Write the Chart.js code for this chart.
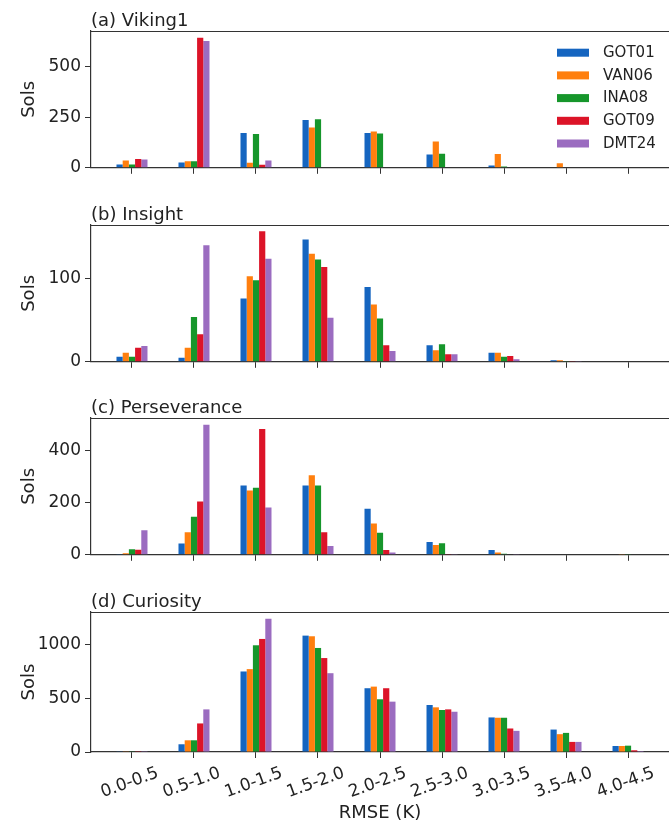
<!DOCTYPE html>
<html>
<head>
<meta charset="utf-8">
<script src="https://cdn.jsdelivr.net/npm/chart.js@4.4.1/dist/chart.umd.min.js"></script>
<style>
  html, body { margin: 0; padding: 0; background: #ffffff; }
  #wrap { position: relative; width: 669px; height: 824px; overflow: hidden; background: #fff; }
  canvas { position: absolute; left: 0; }
</style>
</head>
<body>
<div id="wrap">
  <canvas id="c0" width="669" height="181" style="top:1px"></canvas>
  <canvas id="c1" width="669" height="181" style="top:195px"></canvas>
  <canvas id="c2" width="669" height="181" style="top:388px"></canvas>
  <canvas id="c3" width="669" height="242" style="top:582px"></canvas>
</div>
<script>
// ---------------- data ----------------
const categories = ['0.0-0.5','0.5-1.0','1.0-1.5','1.5-2.0','2.0-2.5','2.5-3.0','3.0-3.5','3.5-4.0','4.0-4.5'];
const models = ['GOT01','VAN06','INA08','GOT09','DMT24'];
const modelColors = ['#1565c0','#ff7f0e','#16962b','#dc1428','#9b6cc0'];

// (a) Viking1
const vikGOT01 = [16, 26, 173, 237, 172, 66, 12, 0, 0];
const vikVAN06 = [36, 33, 25, 200, 180, 130, 68, 22, 0];
const vikINA08 = [16, 33, 168, 241, 170, 70, 6, 0, 0];
const vikGOT09 = [44, 645, 15, 0, 0, 0, 0, 0, 0];
const vikDMT24 = [41, 628, 36, 0, 0, 0, 0, 0, 0];
// (b) Insight
const insGOT01 = [6, 5, 76, 147, 90, 20, 11, 2, 0];
const insVAN06 = [11, 17, 103, 130, 69, 14, 11, 2, 0];
const insINA08 = [6, 54, 98, 123, 52, 21, 6, 1, 0];
const insGOT09 = [17, 33, 157, 114, 20, 9, 7, 1, 0];
const insDMT24 = [19, 140, 124, 53, 13, 9, 3, 1, 0];
// (c) Perseverance
const perGOT01 = [3, 43, 266, 266, 177, 49, 18, 0, 2];
const perVAN06 = [6, 87, 247, 306, 120, 38, 9, 0, 1];
const perINA08 = [21, 146, 258, 266, 85, 44, 4, 0, 1];
const perGOT09 = [19, 205, 484, 87, 18, 3, 2, 0, 0];
const perDMT24 = [94, 500, 182, 34, 9, 1, 1, 0, 0];
// (d) Curiosity
const curGOT01 = [3, 72, 750, 1084, 594, 438, 322, 209, 56];
const curVAN06 = [3, 109, 772, 1078, 609, 416, 319, 166, 56];
const curINA08 = [3, 109, 994, 969, 491, 391, 319, 178, 59];
const curGOT09 = [2, 266, 1053, 875, 594, 397, 219, 94, 16];
const curDMT24 = [2, 397, 1240, 734, 469, 375, 197, 94, 9];

const panelTitles = ['(a) Viking1', '(b) Insight', '(c) Perseverance', '(d) Curiosity'];
const panelSeries = [
  [vikGOT01, vikVAN06, vikINA08, vikGOT09, vikDMT24],
  [insGOT01, insVAN06, insINA08, insGOT09, insDMT24],
  [perGOT01, perVAN06, perINA08, perGOT09, perDMT24],
  [curGOT01, curVAN06, curINA08, curGOT09, curDMT24]
];
const yMaxA = 678, yMaxB = 164.5, yMaxC = 526, yMaxD = 1304;
const yTicksA = [0, 250, 500];
const yTicksB = [0, 100];
const yTicksC = [0, 200, 400];
const yTicksD = [0, 500, 1000];
const panelYMax = [yMaxA, yMaxB, yMaxC, yMaxD];
const panelYTicks = [yTicksA, yTicksB, yTicksC, yTicksD];
const xLabel = 'RMSE (K)';
const yLabel = 'Sols';

// ---------------- styling ----------------
const FONT = "'DejaVu Sans', 'Liberation Sans', sans-serif";
const TEXT = '#222222';
const AXIS = '#333333';
Chart.defaults.font.family = FONT;
Chart.defaults.color = TEXT;

const framePlugin = {
  id: 'frameAndTitle',
  afterDraw(chart, args, opts) {
    const ctx = chart.ctx, a = chart.chartArea;
    ctx.save();
    ctx.strokeStyle = AXIS;
    ctx.lineWidth = 1.2;
    ctx.beginPath();
    ctx.moveTo(a.left, a.top + 0.5);
    ctx.lineTo(a.right + 2, a.top + 0.5);
    ctx.stroke();
    ctx.fillStyle = TEXT;
    ctx.font = '18px ' + FONT;
    ctx.textAlign = 'left';
    ctx.textBaseline = 'alphabetic';
    ctx.fillText(opts.title, a.left, a.top - 5);
    if (opts.legend) {
      ctx.font = '15px ' + FONT;
      ctx.textBaseline = 'middle';
      chart.data.datasets.forEach((ds, i) => {
        const cy = a.top + 21.7 + 22.7 * i;
        ctx.fillStyle = ds.backgroundColor;
        ctx.fillRect(a.right - 112, cy - 4, 32, 8);
        ctx.fillStyle = TEXT;
        ctx.fillText(ds.label, a.right - 66, cy + 0.5);
      });
    }
    ctx.restore();
  }
};

function makePanel(idx) {
  const isLast = idx === 3;
  const series = panelSeries[idx];
  const datasets = models.map((m, k) => ({
    label: m,
    data: series[k].map((v, i) => ({ x: i, y: v })),
    backgroundColor: modelColors[k],
    borderWidth: 0,
    categoryPercentage: 0.5,
    barPercentage: 1.0
  }));
  const yTicks = panelYTicks[idx];
  new Chart(document.getElementById('c' + idx), {
    type: 'bar',
    data: { datasets },
    plugins: [framePlugin],
    options: {
      responsive: false,
      animation: false,
      devicePixelRatio: 1,
      layout: { padding: { top: 30, right: 0, left: 0, bottom: 0 } },
      plugins: {
        legend: { display: false },
        tooltip: { enabled: false },
        frameAndTitle: { title: panelTitles[idx], legend: idx === 0 }
      },
      scales: {
        x: {
          type: 'linear',
          offset: false,
          min: -0.661,
          max: 8.661,
          afterBuildTicks: (s) => { s.ticks = categories.map((_, i) => ({ value: i })); },
          afterFit: (s) => { s.height = isLast ? 72 : 12; },
          grid: { display: true, drawOnChartArea: false, drawTicks: true, tickLength: 6, color: AXIS, offset: false },
          border: { display: true, color: AXIS, width: 1.2 },
          ticks: {
            display: isLast,
            autoSkip: false,
            minRotation: 20,
            maxRotation: 20,
            padding: 5,
            labelOffset: 26,
            color: TEXT,
            font: { size: 17, family: FONT },
            callback: (v) => categories[v]
          },
          title: {
            display: isLast,
            text: xLabel,
            color: TEXT,
            font: { size: 18, family: FONT },
            padding: { top: 0, bottom: 0 }
          }
        },
        y: {
          min: 0,
          max: panelYMax[idx],
          afterBuildTicks: (s) => { s.ticks = yTicks.map(v => ({ value: v })); },
          afterFit: (s) => { s.width = 91; },
          grid: { display: true, drawOnChartArea: false, drawTicks: true, tickLength: 6, color: AXIS },
          border: { display: true, color: AXIS, width: 1.2 },
          ticks: {
            padding: 4,
            color: TEXT,
            font: { size: 17, family: FONT },
            callback: (v) => String(v)
          },
          title: {
            display: true,
            text: yLabel,
            color: TEXT,
            font: { size: 18, family: FONT },
            padding: { top: 19, bottom: 0 }
          }
        }
      }
    }
  });
}
[0, 1, 2, 3].forEach(makePanel);
</script>
</body>
</html>
